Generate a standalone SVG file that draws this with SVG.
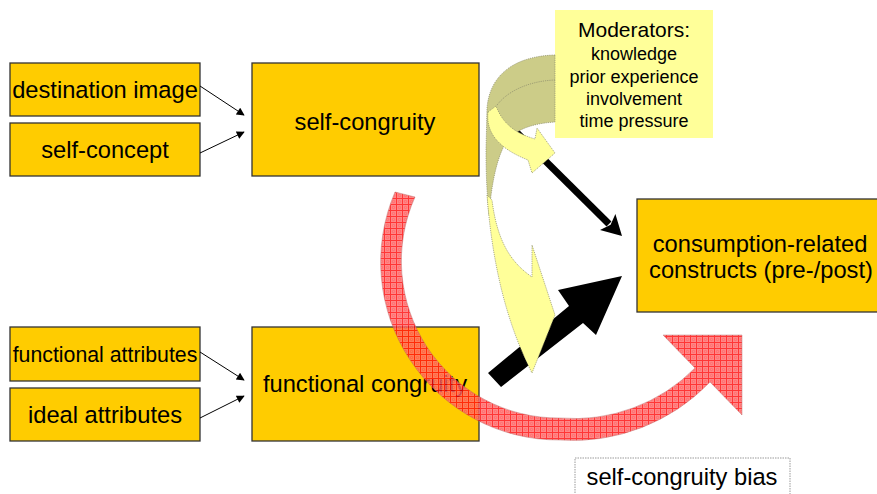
<svg xmlns="http://www.w3.org/2000/svg" width="877" height="494" viewBox="0 0 877 494">
<defs>
<style>
.box{fill:#FFCC00;stroke:#333;stroke-width:1.3}
.t{font-family:"Liberation Sans",Arial,sans-serif;font-size:23.7px;fill:#000;text-anchor:middle}
.m{font-family:"Liberation Sans",Arial,sans-serif;font-size:18px;fill:#000;text-anchor:middle}
.thin{stroke:#000;stroke-width:1;fill:none;marker-end:url(#ah)}
.rib{stroke:#8a8a6a;stroke-width:0.7;stroke-dasharray:1.2 1}
</style>
<marker id="ah" viewBox="0 0 10 10" refX="9" refY="5" markerWidth="10" markerHeight="8" markerUnits="userSpaceOnUse" orient="auto">
<path d="M0,0 L10,5 L0,10 Z" fill="#000"/>
</marker>
<pattern id="redp" width="6" height="6" patternUnits="userSpaceOnUse">
<rect width="6" height="6" fill="#ff6e6e"/>
<path d="M0,0.5 H6 M0.5,0 V6" stroke="#ff0a0a" stroke-width="1"/>
<circle cx="3.5" cy="3.5" r="1.2" fill="none" stroke="#ff3a3a" stroke-width="0.6"/>
</pattern>
</defs>

<g id="destination-image"><rect class="box" x="10" y="63" width="190" height="53"/><text class="t" x="105" y="98">destination image</text></g>
<g id="self-concept"><rect class="box" x="10" y="123" width="190" height="53"/><text class="t" x="105" y="158">self-concept</text></g>
<g id="self-congruity"><rect class="box" x="252" y="63" width="227" height="113"/><text class="t" x="365" y="130">self-congruity</text></g>
<g id="functional-attributes"><rect class="box" x="10" y="327" width="190" height="54"/><text class="t" x="105" y="362" style="font-size:21.3px">functional attributes</text></g>
<g id="ideal-attributes"><rect class="box" x="10" y="388" width="190" height="53"/><text class="t" x="105" y="423">ideal attributes</text></g>
<g id="functional-congruity"><rect class="box" x="252" y="327" width="227" height="114"/><text class="t" x="365" y="392">functional congruity</text></g>
<g id="consumption-constructs"><rect class="box" x="637" y="199" width="250" height="113"/><text class="t" x="760" y="252">consumption-related</text><text class="t" x="761" y="278">constructs (pre-/post)</text></g>
<g id="self-congruity-bias"><rect x="575" y="458" width="215" height="40" fill="#fff" stroke="#999" stroke-width="1" stroke-dasharray="1.5 1"/><text class="t" x="682" y="485">self-congruity bias</text></g>

<g id="connectors">
<line class="thin" x1="200" y1="86" x2="244" y2="115"/>
<line class="thin" x1="200" y1="153" x2="244" y2="132"/>
<line class="thin" x1="200" y1="352" x2="244" y2="380"/>
<line class="thin" x1="200" y1="418" x2="244" y2="396"/>
<line x1="492" y1="108" x2="609" y2="224" stroke="#000" stroke-width="7"/>
<path d="M622,236 L600,230 L610.6,224.8 L615.4,214 Z" fill="#000"/>
<path d="M488,373 L569,306 L558,290 L622,276 L596,335 L583,323 L501,387 Z" fill="#000"/>
<path d="M395,192 A178,178 0 0 0 560,440 A190,190 0 0 0 710,382 L742,415 L742,335 L663,335 L695,368 A170,170 0 0 1 560,418 A157,157 0 0 1 415,197 Z" fill="url(#redp)" opacity="0.82" stroke="#b06060" stroke-width="0.5"/>
</g>

<g id="moderators">
<rect x="555" y="10" width="158" height="128" fill="#FFFF99"/>
<text class="m" x="634" y="37" style="font-size:21px">Moderators:</text>
<text class="m" x="634" y="60">knowledge</text>
<text class="m" x="634" y="83">prior experience</text>
<text class="m" x="634" y="105">involvement</text>
<text class="m" x="634" y="127">time pressure</text>
</g>

<g id="moderator-arrows">
<path class="rib" d="M555,55 C518,56 490,72 487,108 L486,150 C486,175 487,195 489,215 C491,190 495,165 503,148 C510,133 525,124 555,122 Z" fill="#CCCC88"/>
<path class="rib" d="M555,80 C528,81 505,92 495,108" fill="none"/>
<path class="rib" d="M488,112 C486,130 495,147 528,160 L532,173 L555,153 L537,128 L535,139 C515,133 503,124 496,106 Z" fill="#FFFF99"/>
<path class="rib" d="M487,195 C492,260 505,320 532,373 L555,315 L532,245 L532,277 C510,262 497,240 492,200 Z" fill="#FFFF99"/>
</g>
</svg>
